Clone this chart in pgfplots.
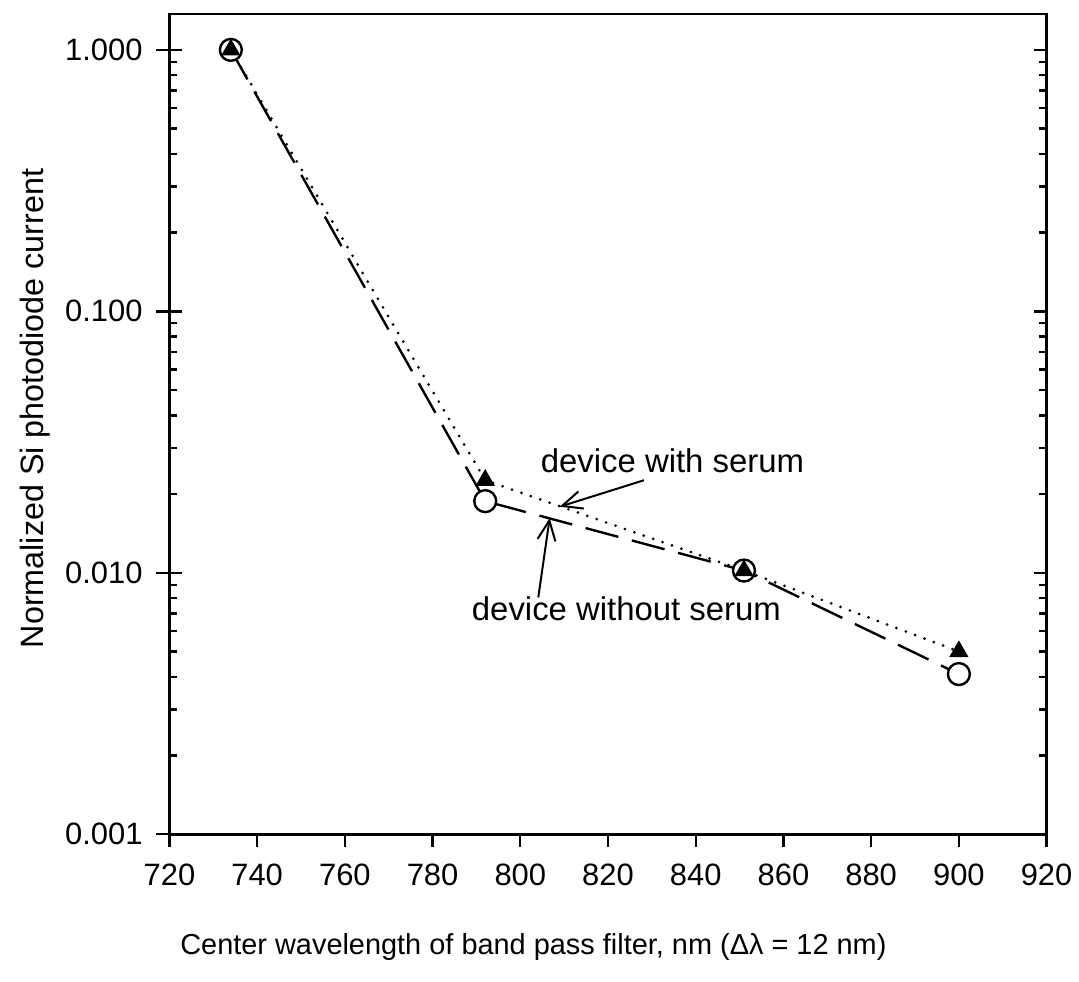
\documentclass[border=0pt]{standalone}
\usepackage{fontspec}
\setmainfont{Liberation Sans}
\usepackage{pgfplots}
\pgfplotsset{compat=1.18}
\usetikzlibrary{arrows.meta}

\begin{document}
\begin{tikzpicture}
% page size = reference proportions (1 px = 0.5pt)
\path (-85pt,-74pt) rectangle (454.5pt,418.5pt);
% outside part of left major ticks
\begin{semilogyaxis}[
    scale only axis,
    width=440pt, height=411.5pt,
    xmin=720, xmax=920,
    ymin=0.001, ymax=1.372,
    ytick={0.001,0.01,0.1,1},
    yminorticks=false,
    major tick length=6.5pt,
    every tick/.style={black, line width=1.2pt},
    axis line style={line width=1.4pt},
    xtick=\empty,
    ytick pos=left, ytick align=outside,
    yticklabels={},
]
\end{semilogyaxis}
% right-hand ticks, inside only
\begin{semilogyaxis}[
    scale only axis,
    width=440pt, height=411.5pt,
    xmin=720, xmax=920,
    ymin=0.001, ymax=1.372,
    ytick={0.001,0.01,0.1,1},
    major tick length=6.5pt, minor tick length=4pt,
    every tick/.style={black, line width=1.2pt},
    axis line style={line width=1.4pt},
    xtick=\empty,
    ytick pos=right, ytick align=inside,
    yticklabels={},
]
\end{semilogyaxis}
\begin{semilogyaxis}[
    scale only axis,
    width=440pt, height=411.5pt,
    xmin=720, xmax=920,
    ymin=0.001, ymax=1.372,
    ytick={0.001,0.01,0.1,1},
    major tick length=6.5pt, minor tick length=4pt,
    every tick/.style={black, line width=1.2pt},
    axis line style={line width=1.4pt},
    /pgf/number format/assume math mode=true,
    xtick={720,740,...,920},
    yticklabels={0.001,0.010,0.100,1.000},
    xtick pos=bottom, ytick pos=left,
    xtick align=outside, ytick align=inside,
    tick label style={font=\fontsize{15.5}{18}\selectfont},
    yticklabel style={font=\fontsize{15.5}{18}\selectfont, xshift=-10pt},
    xticklabel style={yshift=-5pt},
    xlabel={Center wavelength of band pass filter, nm (Δλ = 12 nm)},
    ylabel={Normalized Si photodiode current},
    xlabel style={font=\fontsize{14.5}{17}\selectfont,
        at={(axis description cs:0.415,-0.137)}, anchor=center},
    ylabel style={font=\fontsize{16.2}{19}\selectfont,
        at={(axis description cs:-0.153,0.519)}, anchor=center},
    clip=false,
]
% device without serum
\addplot[black, line width=1.2pt, dash pattern=on 17pt off 7pt,
    mark=*, mark size=5.5pt,
    mark options={solid, fill=white, draw=black, line width=1.2pt}]
    coordinates {
    (734,1.0)
    (792,0.0188)
    (851,0.0102)
    (900,0.0041)
};
% device with serum
\addplot[black, line width=1.5pt, dash pattern=on 0pt off 5pt, line cap=round,
    mark=triangle*, mark size=5pt,
    mark options={solid, fill=black, line width=0.6pt}]
    coordinates {
    (734,1.0)
    (792,0.0226)
    (851,0.0102)
    (900,0.0050)
};

\draw[-{Straight Barb[length=10pt,width=9pt]}, line width=1pt]
    (axis cs:828.2,0.0226) -- (axis cs:809,0.0179);
\node[font=\fontsize{16.5}{20}\selectfont] at (axis cs:834.7,0.0269) {device with serum};
\draw[-{Straight Barb[length=10pt,width=9pt]}, line width=1pt]
    (axis cs:804.1,0.00805) -- (axis cs:806.7,0.0162);
\node[font=\fontsize{16.5}{20}\selectfont] at (axis cs:824.2,0.00731) {device without serum};
\end{semilogyaxis}
\end{tikzpicture}
\end{document}
